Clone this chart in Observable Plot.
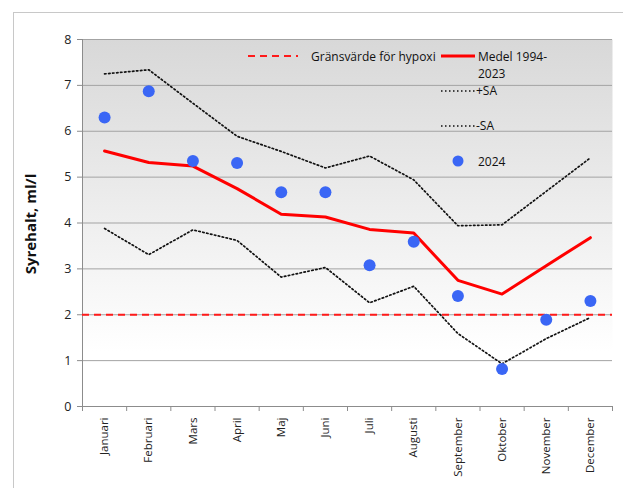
<!DOCTYPE html>
<html>
<head>
<meta charset="utf-8">
<script src="https://cdn.jsdelivr.net/npm/d3@7"></script>
<script src="https://cdn.jsdelivr.net/npm/@observablehq/plot@0.6"></script>
<style>
  html, body { margin: 0; padding: 0; background: #fff; }
  #wrap { position: relative; width: 623px; height: 488px; overflow: hidden; }
  #frame { position: absolute; left: 13px; top: 12px; width: 640px; height: 500px; border: 1px solid #c8c8c8; box-sizing: border-box; }
  #chart { position: absolute; left: 0; top: 0; }
  #legend { position: absolute; left: 0; top: 0; pointer-events: none; }
</style>
</head>
<body>
<div id="wrap">
  <div id="frame"></div>
  <div id="chart"></div>
  <svg id="legend" width="623" height="488"></svg>
</div>
<script>
const months = ["Januari","Februari","Mars","April","Maj","Juni","Juli","Augusti","September","Oktober","November","December"];
const medel   = [5.57, 5.32, 5.24, 4.75, 4.19, 4.13, 3.86, 3.78, 2.75, 2.45, 3.07, 3.68];
const plusSA  = [7.25, 7.34, 6.61, 5.89, 5.56, 5.20, 5.46, 4.94, 3.94, 3.96, 4.69, 5.42];
const minusSA = [3.88, 3.31, 3.85, 3.62, 2.82, 3.03, 2.26, 2.62, 1.59, 0.93, 1.48, 1.94];
const obs2024 = [6.30, 6.87, 5.35, 5.31, 4.67, 4.67, 3.08, 3.59, 2.41, 0.82, 1.89, 2.30];
const hypoxi = 2;
const yTicks = [0, 1, 2, 3, 4, 5, 6, 7, 8];

const rows = months.map((m, i) => ({i, m, medel: medel[i], plus: plusSA[i], minus: minusSA[i], obs: obs2024[i]}));
const idx = d3.range(months.length);
const bounds = d3.range(-0.5, months.length, 1);

const chart = Plot.plot({
  width: 623,
  height: 488,
  marginLeft: 82,
  marginRight: 11,
  marginTop: 39,
  marginBottom: 82,
  style: {fontFamily: "'Open Sans', sans-serif", background: "transparent", overflow: "visible"},
  x: {type: "linear", domain: [-0.5, months.length - 0.5], axis: null},
  y: {domain: [0, 8], axis: null},
  marks: [
    Plot.frame({fill: "url(#bgGrad)", stroke: null}),
    Plot.ruleY(yTicks.slice(1), {stroke: "#a3a3a3", strokeWidth: 1}),
    Plot.axisY({ticks: yTicks, tickSize: 5, tickPadding: 6, fontSize: 12.5, color: "#222", stroke: "#8c8c8c", label: null, tickFormat: d => d}),
    Plot.axisX({ticks: bounds, tickSize: 5, tickFormat: () => "", stroke: "#8c8c8c", label: null}),
    Plot.axisX({ticks: idx, tickSize: 0, tickPadding: 11, tickRotate: -90, fontSize: 11.5, color: "#222", tickFormat: i => months[i], label: null}),
    Plot.ruleX([-0.5], {stroke: "#8c8c8c"}),
    Plot.ruleY([0], {stroke: "#8c8c8c"}),
    Plot.ruleY([hypoxi], {stroke: "#ff1a1a", strokeWidth: 2, strokeDasharray: "7,5"}),
    Plot.line(rows, {x: "i", y: "plus", stroke: "#111", strokeWidth: 1.7, strokeDasharray: "1.5,2.5"}),
    Plot.line(rows, {x: "i", y: "minus", stroke: "#111", strokeWidth: 1.7, strokeDasharray: "1.5,2.5"}),
    Plot.line(rows, {x: "i", y: "medel", stroke: "#ff0000", strokeWidth: 3}),
    Plot.dot(rows, {x: "i", y: "obs", r: 6, fill: "#3a66f5", stroke: null})
  ]
});

// gradient background for the plot area
const defs = d3.select(chart).insert("defs", ":first-child");
const grad = defs.append("linearGradient").attr("id", "bgGrad").attr("x1", 0).attr("y1", 0).attr("x2", 0).attr("y2", 1);
grad.append("stop").attr("offset", "0%").attr("stop-color", "#d8d8d8");
grad.append("stop").attr("offset", "85%").attr("stop-color", "#ffffff");
grad.append("stop").attr("offset", "100%").attr("stop-color", "#ffffff");

// y-axis title
d3.select(chart).append("text")
  .attr("transform", "translate(36,224) rotate(-90)")
  .attr("text-anchor", "middle")
  .attr("font-family", "'Open Sans', sans-serif")
  .attr("font-weight", "bold")
  .attr("font-size", 15)
  .attr("fill", "#111")
  .text("Syrehalt, ml/l");

document.getElementById("chart").appendChild(chart);

// legend
const lg = d3.select("#legend").attr("font-family", "'Open Sans', sans-serif").attr("font-size", 12).attr("fill", "#111");
lg.append("line").attr("x1", 248).attr("x2", 298).attr("y1", 56).attr("y2", 56).attr("stroke", "#ff1a1a").attr("stroke-width", 2).attr("stroke-dasharray", "7,5");
lg.append("text").attr("x", 311).attr("y", 61).text("Gränsvärde för hypoxi");
lg.append("line").attr("x1", 441).attr("x2", 475).attr("y1", 56).attr("y2", 56).attr("stroke", "#ff0000").attr("stroke-width", 3);
lg.append("text").attr("x", 478).attr("y", 61).text("Medel 1994-");
lg.append("text").attr("x", 478).attr("y", 78).text("2023");
lg.append("line").attr("x1", 441).attr("x2", 475).attr("y1", 91).attr("y2", 91).attr("stroke", "#111").attr("stroke-width", 1.7).attr("stroke-dasharray", "1.5,2.5");
lg.append("text").attr("x", 476).attr("y", 95).text("+SA");
lg.append("line").attr("x1", 441).attr("x2", 475).attr("y1", 126).attr("y2", 126).attr("stroke", "#111").attr("stroke-width", 1.7).attr("stroke-dasharray", "1.5,2.5");
lg.append("text").attr("x", 476).attr("y", 130).text("-SA");
lg.append("circle").attr("cx", 458).attr("cy", 161).attr("r", 5.5).attr("fill", "#3a66f5");
lg.append("text").attr("x", 478).attr("y", 166).text("2024");
</script>
</body>
</html>
